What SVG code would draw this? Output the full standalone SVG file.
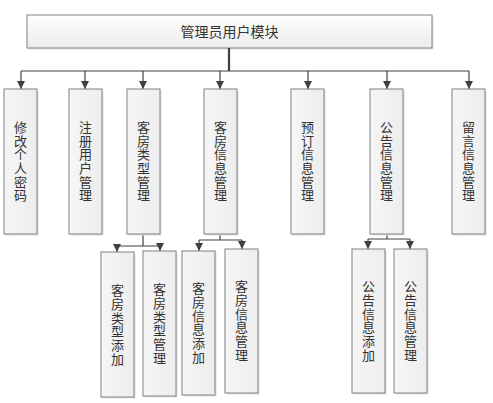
<svg xmlns="http://www.w3.org/2000/svg" width="493" height="403" viewBox="0 0 493 403">
<defs>
<linearGradient id="g" x1="0" y1="0" x2="0" y2="1">
<stop offset="0" stop-color="#ffffff"/>
<stop offset="1" stop-color="#ececec"/>
</linearGradient>
<linearGradient id="gv" x1="0" y1="0" x2="1" y2="0">
<stop offset="0" stop-color="#f6f6f6"/>
<stop offset="1" stop-color="#ededed"/>
</linearGradient>
<marker id="ah" viewBox="0 0 10 10" refX="10" refY="5" markerWidth="8" markerHeight="8" markerUnits="userSpaceOnUse" orient="auto">
<path d="M0,0 L10,5 L0,10 z" fill="#404040"/>
</marker>
</defs>
<style>
.box{fill:url(#gv);stroke:#808080;stroke-width:1}
.top{fill:url(#g);stroke:#808080;stroke-width:1}
.sh{fill:#e2e2e2}
.t{font-family:"Noto Sans CJK SC","Liberation Sans",sans-serif;font-size:14px;fill:#333;text-anchor:middle}
.v{font-family:"Noto Sans CJK SC","Liberation Sans",sans-serif;font-size:13px;letter-spacing:0.7px;fill:#333;text-anchor:middle;writing-mode:vertical-rl}
.ln{fill:none;stroke:#404040;stroke-width:1.2}
</style>
<rect width="493" height="403" fill="#ffffff"/>
<g id="root">
<rect class="sh" x="28.5" y="16.5" width="405" height="33"/>
<rect class="top" x="27" y="15" width="405" height="33"/>
<text class="t" x="229.5" y="36.5">管理员用户模块</text>
</g>
<g id="connectors">
<line x1="229" y1="48" x2="229" y2="71" stroke="#404040" stroke-width="2.2"/>
<line class="ln" x1="21" y1="71" x2="469" y2="71"/>
<line class="ln" x1="21" y1="71" x2="21" y2="89" marker-end="url(#ah)"/>
<line class="ln" x1="85" y1="71" x2="85" y2="89" marker-end="url(#ah)"/>
<line class="ln" x1="143" y1="71" x2="143" y2="89" marker-end="url(#ah)"/>
<line class="ln" x1="220" y1="71" x2="220" y2="89" marker-end="url(#ah)"/>
<line class="ln" x1="308" y1="71" x2="308" y2="89" marker-end="url(#ah)"/>
<line class="ln" x1="387" y1="71" x2="387" y2="89" marker-end="url(#ah)"/>
<line class="ln" x1="469" y1="71" x2="469" y2="89" marker-end="url(#ah)"/>
<line class="ln" x1="143" y1="234" x2="143" y2="246"/>
<line class="ln" x1="117" y1="246" x2="160" y2="246"/>
<line class="ln" x1="117" y1="246" x2="117" y2="252" marker-end="url(#ah)"/>
<line class="ln" x1="160" y1="246" x2="160" y2="251" marker-end="url(#ah)"/>
<line class="ln" x1="220" y1="234" x2="220" y2="240"/>
<line class="ln" x1="199" y1="240" x2="242" y2="240"/>
<line class="ln" x1="199" y1="240" x2="199" y2="251" marker-end="url(#ah)"/>
<line class="ln" x1="242" y1="240" x2="242" y2="249" marker-end="url(#ah)"/>
<line class="ln" x1="387" y1="234" x2="387" y2="239"/>
<line class="ln" x1="368" y1="239" x2="410" y2="239"/>
<line class="ln" x1="368" y1="239" x2="368" y2="249" marker-end="url(#ah)"/>
<line class="ln" x1="410" y1="239" x2="410" y2="249" marker-end="url(#ah)"/>
</g>
<g id="n1"><rect class="sh" x="5.5" y="90.5" width="33" height="145"/><rect class="box" x="4" y="89" width="33" height="145"/>
<text class="v" x="20.5" y="161.5">修改个人密码</text></g>
<g id="n2"><rect class="sh" x="70.5" y="90.5" width="33" height="145"/><rect class="box" x="69" y="89" width="33" height="145"/>
<text class="v" x="85.5" y="161.5">注册用户管理</text></g>
<g id="n3"><rect class="sh" x="128.5" y="90.5" width="33" height="145"/><rect class="box" x="127" y="89" width="33" height="145"/>
<text class="v" x="143.5" y="161.5">客房类型管理</text></g>
<g id="n4"><rect class="sh" x="205.5" y="90.5" width="33" height="145"/><rect class="box" x="204" y="89" width="33" height="145"/>
<text class="v" x="220.5" y="161.5">客房信息管理</text></g>
<g id="n5"><rect class="sh" x="292.5" y="90.5" width="33" height="145"/><rect class="box" x="291" y="89" width="33" height="145"/>
<text class="v" x="307.5" y="161.5">预订信息管理</text></g>
<g id="n6"><rect class="sh" x="371.5" y="90.5" width="33" height="145"/><rect class="box" x="370" y="89" width="33" height="145"/>
<text class="v" x="386.5" y="161.5">公告信息管理</text></g>
<g id="n7"><rect class="sh" x="453.5" y="90.5" width="33" height="145"/><rect class="box" x="452" y="89" width="33" height="145"/>
<text class="v" x="468.5" y="161.5">留言信息管理</text></g>
<g id="c1"><rect class="sh" x="102.5" y="253.5" width="33" height="145"/><rect class="box" x="101" y="252" width="33" height="145"/>
<text class="v" x="117.5" y="325">客房类型添加</text></g>
<g id="c2"><rect class="sh" x="144.5" y="252.5" width="33" height="145"/><rect class="box" x="143" y="251" width="33" height="145"/>
<text class="v" x="159.5" y="324">客房类型管理</text></g>
<g id="c3"><rect class="sh" x="183.5" y="252.5" width="33" height="144"/><rect class="box" x="182" y="251" width="33" height="144"/>
<text class="v" x="198.5" y="323">客房信息添加</text></g>
<g id="c4"><rect class="sh" x="226.5" y="250.5" width="33" height="144"/><rect class="box" x="225" y="249" width="33" height="144"/>
<text class="v" x="241.5" y="321">客房信息管理</text></g>
<g id="c5"><rect class="sh" x="353.5" y="250.5" width="33" height="144"/><rect class="box" x="352" y="249" width="33" height="144"/>
<text class="v" x="368.5" y="321">公告信息添加</text></g>
<g id="c6"><rect class="sh" x="395.5" y="250.5" width="33" height="144"/><rect class="box" x="394" y="249" width="33" height="144"/>
<text class="v" x="410.5" y="321">公告信息管理</text></g>
</svg>
